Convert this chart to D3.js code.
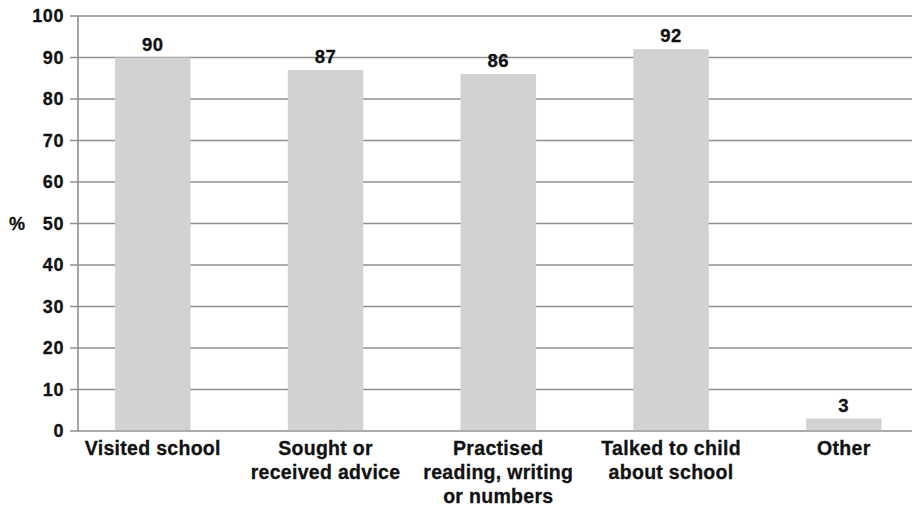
<!DOCTYPE html>
<html>
<head>
<meta charset="utf-8">
<script src="https://cdn.jsdelivr.net/npm/d3@7/dist/d3.min.js"></script>
<style>
  html, body { margin: 0; padding: 0; background: #fff; }
  svg text { font-family: "Liberation Sans", Arial, Helvetica, sans-serif; font-weight: bold; fill: #111; stroke: #111; stroke-width: 0.3px; }
</style>
</head>
<body>
<svg id="chart" width="912" height="507"></svg>
<script>
// Share of parents who did each activity (%)
const categories = [
  ["Visited school"],
  ["Sought or", "received advice"],
  ["Practised", "reading, writing", "or numbers"],
  ["Talked to child", "about school"],
  ["Other"]
];
const values = [90, 87, 86, 92, 3];
const yTicks = [0, 10, 20, 30, 40, 50, 60, 70, 80, 90, 100];
const yLabel = "%";

const W = 912, H = 507;
const svg = d3.select("#chart");
const gridColor = "#8f8f91";
const barColor = "#d1d2d4";

const axisX = 78;
const keys = categories.map(c => c.join(" "));

const x = d3.scaleBand()
  .domain(keys)
  .range([66.4, 930.2])
  .paddingInner(0.563)
  .paddingOuter(0.2815);

const y = d3.scaleLinear().domain([0, 100]).range([431, 16]);

// Horizontal gridlines with short outward ticks
svg.append("g").selectAll("line")
  .data(yTicks)
  .join("line")
  .attr("x1", axisX - 8)
  .attr("x2", W)
  .attr("y1", d => y(d))
  .attr("y2", d => y(d))
  .attr("stroke", gridColor)
  .attr("stroke-width", 1.6);

// Vertical axis line
svg.append("line")
  .attr("x1", axisX).attr("x2", axisX)
  .attr("y1", y(100)).attr("y2", y(0))
  .attr("stroke", gridColor)
  .attr("stroke-width", 1.6);

// Tick labels
svg.append("g").selectAll("text")
  .data(yTicks)
  .join("text")
  .attr("x", axisX - 14)
  .attr("y", d => y(d))
  .attr("dy", "0.36em")
  .attr("text-anchor", "end")
  .attr("font-size", 18)
  .attr("letter-spacing", 0.6)
  .text(d => d);

// Axis title
svg.append("text")
  .attr("x", 17)
  .attr("y", y(50))
  .attr("dy", "0.36em")
  .attr("text-anchor", "middle")
  .attr("font-size", 18)
  .text(yLabel);

// Small separator ticks on the baseline
const sepTicks = [[0, 1.208], [1, 1.077]];
svg.append("g").selectAll("line")
  .data(sepTicks)
  .join("line")
  .attr("x1", d => x(keys[d[0]]) - x.step() * x.paddingInner() / 2 + x.step() * d[1] - x.step() * 0.5)
  .attr("x2", d => x(keys[d[0]]) - x.step() * x.paddingInner() / 2 + x.step() * d[1] - x.step() * 0.5)
  .attr("y1", y(0) - 11)
  .attr("y2", y(0))
  .attr("stroke", gridColor)
  .attr("stroke-width", 1.4);

// Bars
svg.append("g").selectAll("rect")
  .data(values)
  .join("rect")
  .attr("x", (d, i) => x(keys[i]))
  .attr("width", x.bandwidth())
  .attr("y", d => y(d))
  .attr("height", d => y(0) - y(d) - 0.8)
  .attr("fill", barColor);

// Value labels
svg.append("g").selectAll("text")
  .data(values)
  .join("text")
  .attr("x", (d, i) => x(keys[i]) + x.bandwidth() / 2)
  .attr("y", d => y(d) - 7)
  .attr("text-anchor", "middle")
  .attr("font-size", 18.5)
  .attr("letter-spacing", 0.6)
  .text(d => d);

// Category labels
const cat = svg.append("g").selectAll("text")
  .data(categories)
  .join("text")
  .attr("x", (d, i) => x(keys[i]) + x.bandwidth() / 2)
  .attr("y", 455)
  .attr("text-anchor", "middle")
  .attr("font-size", 19.5)
  .attr("letter-spacing", 0.3);

cat.selectAll("tspan")
  .data(d => d)
  .join("tspan")
  .attr("x", function () { return d3.select(this.parentNode).attr("x"); })
  .attr("dy", (d, i) => i === 0 ? 0 : 24)
  .text(d => d);
</script>
</body>
</html>
